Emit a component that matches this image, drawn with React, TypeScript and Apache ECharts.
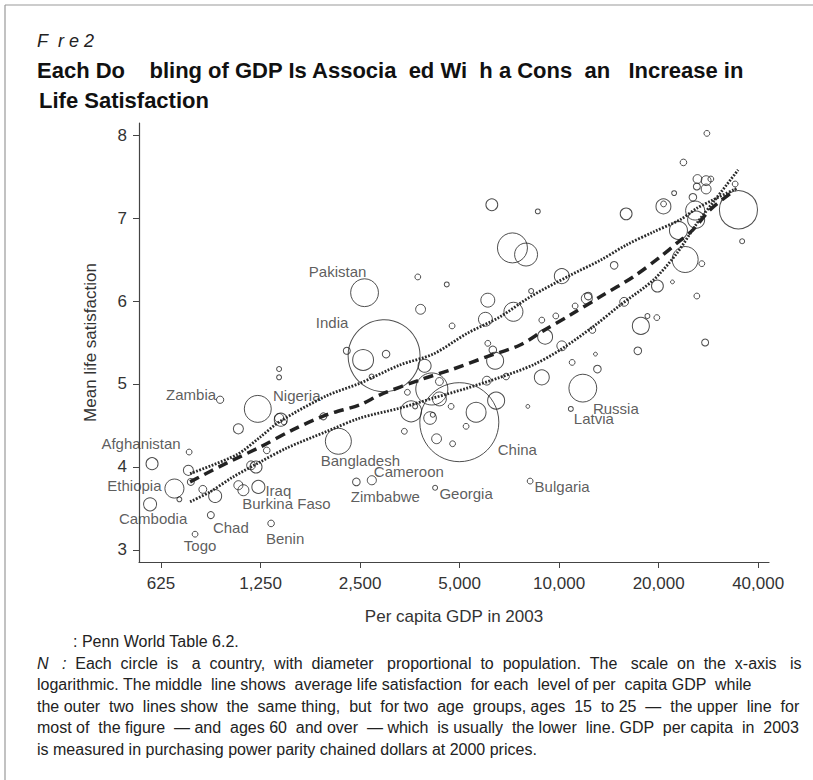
import React, { useEffect, useRef } from "react";
import * as echarts from "echarts";

// ---------- data ----------
const countryNames = [
  "Afghanistan", "Cambodia", "Ethiopia", "", "", "", "", "Togo", "", "Chad",
  "", "Zambia", "", "", "Burkina Faso", "", "", "Iraq", "", "Benin",
  "", "", "", "Nigeria", "", "", "", "Bangladesh", "Zimbabwe", "Cameroon",
  "Pakistan", "", "India", "", "", "", "", "", "", "",
  "", "", "", "", "", "", "", "", "China", "",
  "", "", "", "Georgia", "", "", "", "", "", "",
  "", "", "", "", "", "", "", "Latvia", "Russia", "Bulgaria",
  "", "", "", "", "", "", "", "", "", "",
  "", "", "", "", "", "", "", "", "", "",
  "", "", "", "", "", "", "", "", "", "",
  "", "", "", "", "", "", "", "", "", "",
  "", "", "",
];
const gdpPerCapita = [
  587, 579, 686, 710, 760, 756, 769, 792, 836, 884,
  911, 943, 1071, 1071, 1109, 1211, 1170, 1231, 1226, 1345,
  1305, 1422, 1422, 1439, 1422, 1472, 1936, 2149, 2436, 2713,
  2579, 2279, 2955, 2553, 2996, 2709, 3737, 3810, 3918, 3476,
  3403, 4120, 4344, 4344, 3567, 3668, 4070, 4148, 4990, 4713,
  5609, 6449, 5231, 4216, 4259, 4762, 4745, 4572, 6085, 5985,
  7274, 8230, 6404, 6085, 6301, 6044, 6912, 10850, 11795, 8172,
  8864, 8042, 9070, 10188, 9773, 8864, 11180, 12130, 12250, 10950,
  13056, 12880, 12610, 10188, 14670, 6258, 8620, 7225, 7944, 15950,
  15730, 18500, 19750, 17670, 17300, 19830, 20680, 20700, 22280, 23770,
  27990, 26210, 27840, 28770, 26100, 27840, 25390, 34080, 34870, 35780,
  25790, 25970, 22960, 24060, 27020, 22020, 26100, 27650,
];
const lifeSatisfaction = [
  4.04, 3.55, 3.74, 3.61, 4.18, 3.96, 3.82, 3.19, 3.73, 3.42,
  3.65, 4.81, 4.46, 3.78, 3.72, 4.0, 4.02, 3.76, 4.7, 3.32,
  4.2, 5.18, 5.08, 4.57, 4.59, 4.54, 4.61, 4.31, 3.82, 3.84,
  6.1, 5.4, 5.34, 5.29, 5.36, 5.09, 6.29, 5.9, 5.22, 4.9,
  4.43, 4.94, 4.82, 5.03, 4.67, 4.73, 4.59, 4.63, 4.54, 4.73,
  4.66, 4.8, 4.49, 3.75, 4.34, 4.28, 5.7, 6.2, 6.01, 5.78,
  5.87, 6.12, 5.28, 5.49, 5.41, 5.04, 5.09, 4.7, 4.95, 3.83,
  5.08, 4.73, 5.57, 5.46, 5.82, 5.77, 5.94, 6.03, 6.06, 5.26,
  5.18, 5.36, 5.65, 6.3, 6.43, 7.16, 7.08, 6.64, 6.56, 7.05,
  5.99, 5.82, 5.8, 5.7, 5.4, 6.18, 7.14, 7.17, 7.3, 7.67,
  8.02, 7.47, 7.45, 7.47, 7.38, 7.35, 7.25, 7.41, 7.1, 6.72,
  7.09, 6.98, 6.85, 6.5, 6.45, 6.23, 6.06, 5.5,
];
const populationMillions = [
  30, 35, 75, 5, 7, 21, 10, 7, 13, 10,
  35, 11, 21, 17, 25, 30, 16, 35, 150, 9,
  9, 5, 5, 35, 17, 6, 10, 140, 12, 17,
  160, 10, 1070, 90, 12, 5, 7, 20, 35, 7,
  7, 212, 40, 13, 90, 5, 33, 5, 1290, 7,
  82, 60, 7, 5, 20, 7, 7, 5, 40, 40,
  75, 5, 60, 7, 12, 16, 9, 5, 160, 7,
  46, 3, 46, 20, 7, 7, 7, 25, 12, 7,
  12, 3, 9, 46, 12, 29, 5, 186, 109, 29,
  16, 5, 7, 60, 12, 29, 46, 7, 5, 9,
  7, 16, 20, 7, 10, 20, 12, 7, 300, 5,
  75, 60, 67, 140, 7, 3, 7, 10,
];

// average life satisfaction (dashed)
const meanGdp = [765, 990, 1246, 1568, 1986, 2500, 2874, 3797, 4779, 6056, 7620, 8945, 10800, 13306, 16745, 20208, 22750, 25437, 28640, 34080];
const meanSat = [3.82, 4.05, 4.24, 4.45, 4.63, 4.75, 4.87, 5.05, 5.18, 5.33, 5.47, 5.64, 5.83, 6.05, 6.29, 6.53, 6.7, 6.86, 7.1, 7.34];
// ages 15 to 25 (dotted, upper)
const youngGdp = [765, 1061, 1246, 1432, 1986, 2500, 3304, 4158, 5268, 6630, 8174, 10800, 13306, 16056, 19244, 23231, 26150, 29244, 34560];
const youngSat = [3.92, 4.15, 4.36, 4.55, 4.86, 5.01, 5.23, 5.36, 5.61, 5.81, 6.05, 6.31, 6.49, 6.68, 6.83, 6.98, 7.12, 7.22, 7.36];
// ages 60 and over (dotted, lower)
const oldGdp = [765, 879, 1032, 1246, 1503, 1986, 2500, 3304, 4158, 5268, 6630, 8345, 10070, 12675, 15294, 19244, 22750, 26150, 29244, 34800];
const oldSat = [3.58, 3.7, 3.88, 4.06, 4.23, 4.43, 4.59, 4.71, 4.83, 4.95, 5.08, 5.23, 5.41, 5.69, 5.95, 6.25, 6.58, 6.94, 7.19, 7.58];

const xTickValues = [625, 1250, 2500, 5000, 10000, 20000, 40000];
const yTickValues = [3, 4, 5, 6, 7, 8];

const figureLabel = "F\u00A0\u00A0r\u00A0e 2";
const titleLine1 = "Each Do\u00A0\u00A0\u00A0\u00A0bling of GDP Is Associa\u00A0\u00A0ed Wi\u00A0\u00A0h a Cons\u00A0\u00A0an\u00A0\u00A0\u00A0Increase in";
const titleLine2 = "Life Satisfaction";
const sourceText = ": Penn World Table 6.2.";
const noteLines = [
  "{i|N}\u00A0\u00A0\u00A0{i|:} Each circle is a country, with diameter proportional to population. The scale on the x-axis is",
  "logarithmic. The middle line shows average life satisfaction for each level of per capita GDP while",
  "the outer two lines show the same thing, but for two age groups, ages 15 to 25 \u2014 the upper line for",
  "most of the figure \u2014 and ages 60 and over \u2014 which is usually the lower line. GDP per capita in 2003",
  "is measured in purchasing power parity chained dollars at 2000 prices.",
];
// right edge each note line reaches (layout)
const noteRightEdges = [801, 752, 797, 801, 0];

// label placement (style)
const labelOffsets: Record<string, [number, number]> = {
  Afghanistan: [-11, -20],
  Cambodia: [3, 14],
  Ethiopia: [-40, -3],
  Togo: [5, 11],
  Chad: [20, 12],
  Zambia: [-29, -5],
  "Burkina Faso": [43, 13],
  Iraq: [20, 4],
  Benin: [14, 15],
  Nigeria: [16, -24],
  Bangladesh: [22, 19],
  Zimbabwe: [29, 15],
  Cameroon: [37, -9],
  Pakistan: [-27, -21],
  India: [-52, -33],
  China: [58, 27],
  Georgia: [31, 6],
  Latvia: [23, 10],
  Russia: [33, 20],
  Bulgaria: [32, 5],
};

const FONT = "'Liberation Sans', Arial, Helvetica, sans-serif";
const NOTE_FONT = "'Liberation Sans Narrow', 'Arial Narrow', 'Liberation Sans', Arial, sans-serif";
const NOTE_SIZE = 16;

function stretchLine(text: string, left: number, right: number): string {
  if (!right) return text;
  const ctx = document.createElement("canvas").getContext("2d");
  if (!ctx) return text;
  ctx.font = `${NOTE_SIZE}px ${NOTE_FONT}`;
  const plain = text.replace(/\{i\|(.*?)\}/g, "$1");
  const natural = ctx.measureText(plain).width;
  const nb = ctx.measureText("\u00A0").width || NOTE_SIZE * 0.25;
  const extra = right - left - natural;
  if (extra <= 0) return text;
  const n = Math.round(extra / nb);
  const parts = text.split(" ");
  const gaps = parts.length - 1;
  let out = parts[0];
  for (let g = 1; g <= gaps; g++) {
    const add = Math.floor((n * g) / gaps) - Math.floor((n * (g - 1)) / gaps);
    out += " " + "\u00A0".repeat(add) + parts[g];
  }
  return out;
}

export default function App() {
  const ref = useRef<HTMLDivElement>(null);
  useEffect(() => {
    document.body.style.margin = "0";
    if (!ref.current) return;
    const chart = echarts.init(ref.current, null, { renderer: "svg" });

    const circles = gdpPerCapita.map((g, i) => {
      const name = countryNames[i];
      const item: any = { value: [Math.log2(g), lifeSatisfaction[i]], name };
      if (name) {
        item.label = {
          show: true,
          position: "inside",
          formatter: name,
          offset: labelOffsets[name] || [0, 0],
          color: "#333",
          fontSize: 15,
          fontFamily: FONT,
        };
      }
      return item;
    });

    const lineSeries = (gx: number[], gy: number[], dashed: boolean) => ({
      type: "line",
      data: gx.map((g, i) => [Math.log2(g), gy[i]]),
      showSymbol: false,
      smooth: 0.3,
      silent: true,
      lineStyle: dashed
        ? { color: "#222", width: 3.5, type: [10, 6] }
        : { color: "#2a2a2a", width: 2.8, type: [1.8, 1.5] },
      z: 3,
    });

    const graphicEls: any[] = [
      { type: "line", shape: { x1: 5, y1: 5, x2: 813, y2: 5 }, style: { stroke: "#999", lineWidth: 1.2 } },
      { type: "line", shape: { x1: 5, y1: 5, x2: 5, y2: 780 }, style: { stroke: "#999", lineWidth: 1.2 } },
      {
        type: "text", left: 37, top: 32,
        style: { text: figureLabel, font: `italic 18px ${FONT}`, fill: "#222" },
      },
      {
        type: "text", left: 37, top: 59,
        style: { text: titleLine1, font: `bold 22px ${FONT}`, fill: "#111" },
      },
      {
        type: "text", left: 39, top: 89,
        style: { text: titleLine2, font: `bold 22px ${FONT}`, fill: "#111" },
      },
      {
        type: "text", left: 73, top: 633,
        style: { text: sourceText, fontSize: NOTE_SIZE, fontFamily: NOTE_FONT, fill: "#222" },
      },
    ];
    noteLines.forEach((t, k) => {
      graphicEls.push({
        type: "text", left: 37, top: 655 + k * 21.5,
        style: {
          text: stretchLine(t, 37, noteRightEdges[k]), fontSize: NOTE_SIZE, fontFamily: NOTE_FONT, fill: "#222",
          rich: { i: { fontStyle: "italic", fontSize: NOTE_SIZE, fontFamily: NOTE_FONT, fill: "#222" } },
        },
      });
    });

    chart.setOption({
      animation: false,
      backgroundColor: "#fff",
      textStyle: { fontFamily: FONT },
      grid: { left: 139, right: 44, top: 123, bottom: 218, containLabel: false, outerBoundsMode: "none" },
      xAxis: {
        type: "value",
        min: Math.log2(536),
        max: Math.log2(43140),
        name: "Per capita GDP in 2003",
        nameLocation: "middle",
        nameGap: 46,
        nameTextStyle: { fontSize: 17, color: "#333", fontFamily: FONT },
        axisLine: { show: true, lineStyle: { color: "#444", width: 1.2 } },
        axisTick: { show: true, length: 6, lineStyle: { color: "#444" }, customValues: xTickValues.map((v) => Math.log2(v)) },
        axisLabel: {
          fontSize: 17, color: "#333", margin: 13,
          customValues: xTickValues.map((v) => Math.log2(v)),
          formatter: (v: number) => Math.round(Math.pow(2, v)).toLocaleString("en-US"),
        },
        splitLine: { show: false },
      },
      yAxis: {
        type: "value",
        min: 2.855,
        max: 8.145,
        name: "Mean life satisfaction",
        nameLocation: "middle",
        nameGap: 40,
        nameRotate: 90,
        nameTextStyle: { fontSize: 17, color: "#333", fontFamily: FONT },
        axisLine: { show: true, lineStyle: { color: "#444", width: 1.2 } },
        axisTick: { show: true, length: 6, lineStyle: { color: "#444" }, customValues: yTickValues },
        axisLabel: { fontSize: 17, color: "#333", margin: 12, customValues: yTickValues },
        splitLine: { show: false },
      },
      series: [
        {
          type: "scatter",
          data: circles,
          symbol: "circle",
          symbolSize: (_v: any, p: any) => 2.2 * Math.sqrt(populationMillions[p.dataIndex]),
          itemStyle: { color: "rgba(0,0,0,0)", borderColor: "#222", borderWidth: 1 },
          emphasis: { disabled: true },
          silent: true,
          z: 2,
        },
        lineSeries(meanGdp, meanSat, true),
        lineSeries(youngGdp, youngSat, false),
        lineSeries(oldGdp, oldSat, false),
      ],
      graphic: graphicEls,
    });
    return () => chart.dispose();
  }, []);
  return <div ref={ref} style={{ position: "absolute", left: 0, top: 0, width: 813, height: 780, background: "#fff" }} />;
}
